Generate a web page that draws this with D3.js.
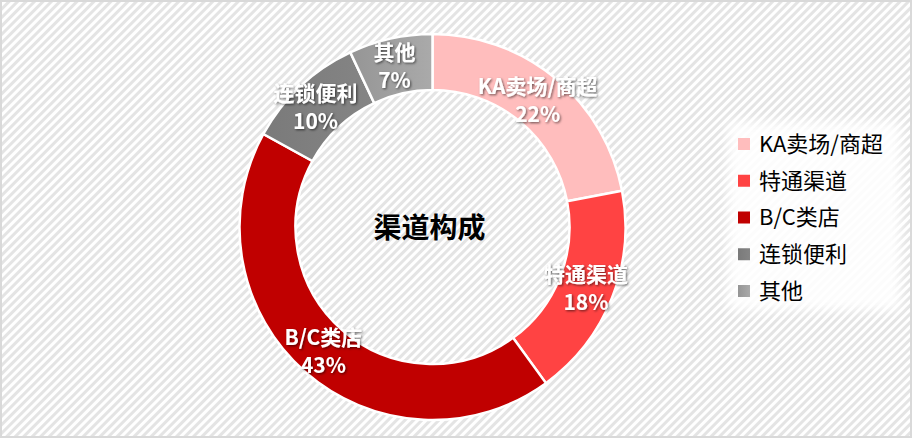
<!DOCTYPE html>
<html>
<head>
<meta charset="utf-8">
<script src="https://cdn.jsdelivr.net/npm/d3@7"></script>
<style>
  html, body { margin: 0; padding: 0; background: #fff; }
  svg { display: block; }
</style>
</head>
<body>
<svg id="chart" width="912" height="438"></svg>
<script>
// Channel composition data
const categories = ["KA卖场/商超", "特通渠道", "B/C类店", "连锁便利", "其他"];
const shares = [22, 18, 43, 10, 7];
const colors = ["#ffbdbd", "#ff4343", "#c00000", "#7f7f7f", "#a5a5a5"];
const title = "渠道构成";

const svg = d3.select("#chart");
const width = +svg.attr("width");
const height = +svg.attr("height");

const data = categories.map((c, i) => ({ name: c, value: shares[i], color: colors[i] }));

const defs = svg.append("defs");

// diagonal stripe background
const pat = defs.append("pattern")
    .attr("id", "stripes")
    .attr("patternUnits", "userSpaceOnUse")
    .attr("width", 6).attr("height", 6)
    .attr("patternTransform", "rotate(45)");
pat.append("rect").attr("width", 6).attr("height", 6).attr("fill", "#ffffff");
pat.append("rect").attr("width", 3).attr("height", 6).attr("fill", "#e4e4e4");

const shadow = defs.append("filter").attr("id", "txtShadow")
    .attr("x", "-20%").attr("y", "-20%").attr("width", "140%").attr("height", "140%");
shadow.append("feDropShadow")
    .attr("dx", 1.2).attr("dy", 1.2).attr("stdDeviation", 0.8)
    .attr("flood-color", "#000").attr("flood-opacity", 0.55);

const soft = defs.append("filter").attr("id", "soft")
    .attr("x", "-10%").attr("y", "-10%").attr("width", "120%").attr("height", "120%");
soft.append("feGaussianBlur").attr("stdDeviation", 6);

// gradients for grey slices
function greyGrad(id, c1, c2) {
    const g = defs.append("linearGradient").attr("id", id)
        .attr("x1", "0%").attr("y1", "0%").attr("x2", "100%").attr("y2", "0%");
    g.append("stop").attr("offset", "0%").attr("stop-color", c1);
    g.append("stop").attr("offset", "100%").attr("stop-color", c2);
}
greyGrad("g3", "#7a7a7a", "#858585");
greyGrad("g4", "#959595", "#aaaaaa");
const fills = ["#ffbdbd", "#ff4343", "#c00000", "url(#g3)", "url(#g4)"];

svg.append("rect")
    .attr("x", 1).attr("y", 1)
    .attr("width", width - 2).attr("height", height - 2)
    .attr("fill", "url(#stripes)")
    .attr("stroke", "#d9d9d9")
    .attr("stroke-width", 2);

// donut
const cx = 432.5, cy = 227;
const outerR = 193, innerR = 137;

const pie = d3.pie().sort(null).value(d => d.value);
const arc = d3.arc().innerRadius(innerR).outerRadius(outerR);
const labelArc = d3.arc().innerRadius(165).outerRadius(165);

const g = svg.append("g").attr("transform", `translate(${cx},${cy})`);
const arcs = pie(data);

g.selectAll("path.slice")
    .data(arcs)
    .enter().append("path")
    .attr("class", "slice")
    .attr("d", arc)
    .attr("fill", (d, i) => fills[i])
    .attr("stroke", "#ffffff")
    .attr("stroke-width", 2.5);

const labelOffsets = [[0, 0], [0, 0], [0, 0], [-4, 0], [-2, 0]];

const labels = g.selectAll("text.lbl")
    .data(arcs)
    .enter().append("text")
    .attr("class", "lbl")
    .attr("text-anchor", "middle")
    .attr("font-family", "'Noto Sans CJK SC', 'Noto Sans', sans-serif")
    .attr("font-weight", "bold")
    .attr("font-size", "21px")
    .attr("fill", "#ffffff")
    .attr("filter", "url(#txtShadow)")
    .attr("transform", (d, i) => {
        const [x, y] = labelArc.centroid(d);
        return `translate(${x + labelOffsets[i][0]},${y + labelOffsets[i][1]})`;
    });

labels.append("tspan")
    .attr("x", 0).attr("y", -6)
    .text(d => d.data.name);
labels.append("tspan")
    .attr("x", 0).attr("y", 22)
    .text(d => d.data.value + "%");

// center title
svg.append("text")
    .attr("x", 429.5).attr("y", 238)
    .attr("text-anchor", "middle")
    .attr("font-family", "'Noto Sans CJK SC', sans-serif")
    .attr("font-weight", "bold")
    .attr("font-size", "28px")
    .attr("fill", "#000")
    .text(title);

// legend
svg.append("rect")
    .attr("x", 728).attr("y", 122)
    .attr("width", 172).attr("height", 188)
    .attr("fill", "#ffffff")
    .attr("opacity", 0.9)
    .attr("filter", "url(#soft)");

const legendY = d3.scalePoint().domain(categories).range([144, 291]);

const leg = svg.append("g").selectAll("g")
    .data(data)
    .enter().append("g")
    .attr("transform", d => `translate(738,${legendY(d.name)})`);

leg.append("rect")
    .attr("x", 0).attr("y", -6)
    .attr("width", 12).attr("height", 12)
    .attr("fill", (d, i) => fills[i]);

leg.append("text")
    .attr("x", 21).attr("y", 0)
    .attr("dy", "0.36em")
    .attr("font-family", "'Noto Sans CJK SC', sans-serif")
    .attr("font-size", "22px")
    .attr("fill", "#000")
    .text(d => d.name);
</script>
</body>
</html>
